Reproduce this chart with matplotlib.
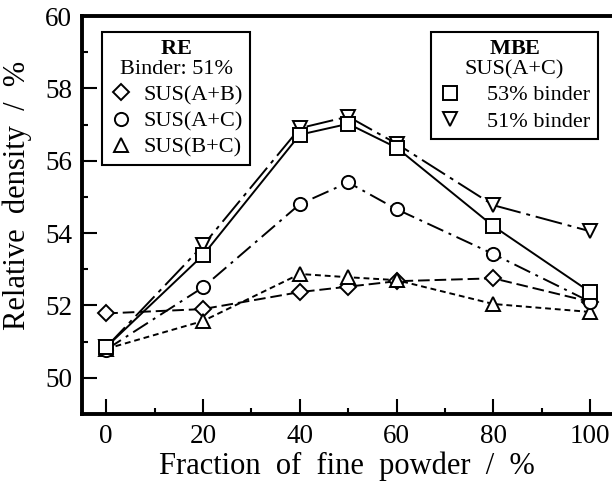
import matplotlib
matplotlib.use('Agg')
import matplotlib.pyplot as plt
from matplotlib.lines import Line2D

# fraction of fine powder (%)
fraction = [0, 20, 40, 50, 60, 80, 100]

# RE, binder 51 %
re_ab = [51.78, 51.90, 52.37, 52.52, 52.67, 52.75, 52.10]
re_ac = [50.78, 52.50, 54.80, 55.40, 54.66, 53.42, 52.10]
re_bc = [50.80, 51.57, 52.87, 52.78, 52.70, 52.04, 51.82]

# MBE, SUS(A+C)
mbe_53 = [50.85, 53.39, 56.72, 57.02, 56.36, 54.19, 52.37]
mbe_51 = [50.85, 53.66, 56.90, 57.22, 56.47, 54.77, 54.05]

x_ticks = [0, 20, 40, 60, 80, 100]
y_ticks = [50, 52, 54, 56, 58, 60]

plt.rcParams['font.family'] = ['Liberation Serif', 'DejaVu Serif']
plt.rcParams['mathtext.fontset'] = 'custom'
plt.rcParams['mathtext.rm'] = 'Liberation Serif'
plt.rcParams['mathtext.bf'] = 'Liberation Serif:bold'

fig = plt.figure(figsize=(6.12, 4.83), dpi=100)
ax = fig.add_axes([82 / 612, 69 / 483, 530 / 612, 398 / 483])

lw = 1.4
ms = 9.5
mew = 1.4
common = dict(color='black', lw=lw, mew=mew, mfc='white', mec='black')

ax.plot(fraction, re_ab, marker='D', ms=8.5, dashes=(6, 2.5), **common)
ax.plot(fraction, re_bc, marker='^', ms=ms, dashes=(3, 2), **common)
ax.plot(fraction, re_ac, marker='o', ms=ms, dashes=(9, 3, 1.5, 3), **common)
ax.plot(fraction, mbe_51, marker='v', ms=ms, dashes=(14, 3, 2, 3), **common)
ax.plot(fraction, mbe_53, marker='s', ms=ms, ls='-', **common)

ax.set_xlim(-5, 104.5)
ax.set_ylim(49, 60)
ax.set_xticks(x_ticks)
ax.set_yticks(y_ticks)
ax.set_xticks([10, 30, 50, 70, 90], minor=True)
ax.set_yticks([51, 53, 55, 57, 59], minor=True)
ax.tick_params(which='major', direction='in', length=11, width=1.5, labelsize=19.5, pad=7)
ax.tick_params(which='minor', direction='in', length=4.5, width=1.5)
ax.tick_params(axis='x', which='both', top=False)
ax.tick_params(axis='y', which='both', right=False)
for side in ['left', 'bottom', 'top']:
    ax.spines[side].set_linewidth(2.8)
ax.spines['right'].set_visible(False)

ax.set_xlabel('Fraction  of  fine  powder  /  %', fontsize=22, labelpad=2)
ax.set_ylabel('Relative  density  /  %', fontsize=22)
ax.yaxis.set_label_coords(-0.094, 0.55)

mk = dict(color='black', ls='none', mew=mew, mfc='white')
re_handles = [Line2D([], [], marker='D', ms=8.5, **mk),
              Line2D([], [], marker='o', ms=ms, **mk),
              Line2D([], [], marker='^', ms=ms, **mk)]
leg1 = ax.legend(re_handles, ['SUS(A+B)', 'SUS(A+C)', 'SUS(B+C)'],
                 title='$\\mathbf{RE}$\nBinder: 51%', loc='upper left',
                 bbox_to_anchor=(0.038, 0.96), fontsize=16, title_fontsize=16,
                 frameon=True, fancybox=False, edgecolor='black', framealpha=1,
                 handlelength=1.0, handletextpad=0.5, labelspacing=0.25,
                 borderpad=0.35, borderaxespad=0)
leg1.get_frame().set_linewidth(1.5)
leg1.get_title().set_multialignment('center')
leg1.get_title().set_linespacing(1.1)
ax.add_artist(leg1)

mbe_handles = [Line2D([], [], marker='s', ms=ms, **mk),
               Line2D([], [], marker='v', ms=ms, **mk)]
leg2 = ax.legend(mbe_handles, ['53% binder', '51% binder'],
                 title='$\\mathbf{MBE}$\nSUS(A+C)', loc='upper right',
                 bbox_to_anchor=(0.974, 0.96), fontsize=16, title_fontsize=16,
                 frameon=True, fancybox=False, edgecolor='black', framealpha=1,
                 handlelength=1.0, handletextpad=1.2, labelspacing=0.25,
                 borderpad=0.35, borderaxespad=0)
leg2.get_frame().set_linewidth(1.5)
leg2.get_title().set_multialignment('center')
leg2.get_title().set_linespacing(1.1)

fig.savefig('out.png', dpi=100)
